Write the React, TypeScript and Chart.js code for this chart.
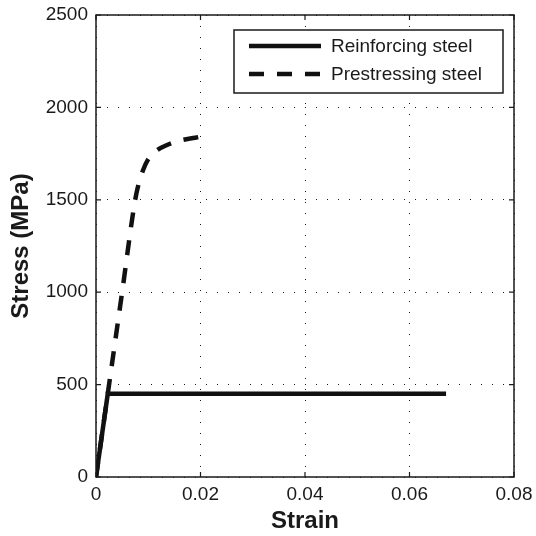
import React, { useEffect, useRef } from "react";
import { Chart, registerables } from "chart.js";

Chart.register(...registerables);

const xTickValues = [0, 0.02, 0.04, 0.06, 0.08];
const yTickValues = [0, 500, 1000, 1500, 2000, 2500];

const reinforcingStrain = [0, 0.00225, 0.067];
const reinforcingStress = [0, 450, 450];

const prestressingStrain = [0, 0.0025, 0.005, 0.0075, 0.0082, 0.009, 0.01, 0.0115, 0.0135, 0.016, 0.019, 0.0217];
const prestressingStress = [0, 500, 1000, 1500, 1590, 1660, 1720, 1765, 1795, 1820, 1836, 1850];

const seriesLabels = ["Reinforcing steel", "Prestressing steel"];

const FONT = "'Liberation Sans', Arial, Helvetica, sans-serif";
const INK = "#1a1a1a";

const framePlugin = {
  id: "frameAndLegend",
  afterDraw(chart: any) {
    const { ctx, chartArea, scales } = chart;
    const { left, right, top, bottom } = chartArea;
    ctx.save();
    // frame
    ctx.strokeStyle = INK;
    ctx.lineWidth = 1.5;
    ctx.setLineDash([]);
    ctx.strokeRect(left, top, right - left, bottom - top);
    // inward ticks
    const tl = 5;
    ctx.lineWidth = 1.2;
    xTickValues.forEach((v) => {
      const x = scales.x.getPixelForValue(v);
      ctx.beginPath();
      ctx.moveTo(x, bottom);
      ctx.lineTo(x, bottom - tl);
      ctx.moveTo(x, top);
      ctx.lineTo(x, top + tl);
      ctx.stroke();
    });
    yTickValues.forEach((v) => {
      const y = scales.y.getPixelForValue(v);
      ctx.beginPath();
      ctx.moveTo(left, y);
      ctx.lineTo(left + tl, y);
      ctx.moveTo(right, y);
      ctx.lineTo(right - tl, y);
      ctx.stroke();
    });

    // legend
    const bx = left + 138;
    const by = top + 15;
    const bw = right - 11 - bx;
    const bh = 63;
    ctx.fillStyle = "#ffffff";
    ctx.fillRect(bx, by, bw, bh);
    ctx.lineWidth = 1.5;
    ctx.strokeStyle = INK;
    ctx.strokeRect(bx, by, bw, bh);
    const rows = [by + 16, by + 44];
    chart.data.datasets.forEach((ds: any, i: number) => {
      const y = rows[i];
      ctx.beginPath();
      ctx.strokeStyle = ds.borderColor;
      ctx.lineWidth = ds.borderWidth;
      ctx.lineCap = "butt";
      ctx.setLineDash(ds.borderDash || []);
      ctx.moveTo(bx + 15, y);
      ctx.lineTo(bx + 87, y);
      ctx.stroke();
      ctx.setLineDash([]);
      ctx.fillStyle = INK;
      ctx.font = `19px ${FONT}`;
      ctx.textBaseline = "middle";
      ctx.textAlign = "left";
      ctx.fillText(ds.label, bx + 97, y + 1);
    });
    ctx.restore();
  },
};

export default function App() {
  const ref = useRef<HTMLCanvasElement | null>(null);
  useEffect(() => {
    if (!ref.current) return;
    const chart = new Chart(ref.current, {
      type: "line",
      data: {
        datasets: [
          {
            label: seriesLabels[0],
            data: reinforcingStrain.map((x, i) => ({ x, y: reinforcingStress[i] })),
            borderColor: "#111111",
            borderWidth: 4.5,
            pointRadius: 0,
            tension: 0,
            fill: false,
          },
          {
            label: seriesLabels[1],
            data: prestressingStrain.map((x, i) => ({ x, y: prestressingStress[i] })),
            borderColor: "#111111",
            borderWidth: 4.5,
            borderDash: [15, 13],
            pointRadius: 0,
            cubicInterpolationMode: "monotone",
            fill: false,
          },
        ],
      },
      options: {
        animation: false,
        responsive: false,
        maintainAspectRatio: false,
        layout: { padding: { top: 15, right: 22, left: 0, bottom: 0 } },
        plugins: { legend: { display: false }, tooltip: { enabled: false } },
        scales: {
          x: {
            type: "linear",
            min: 0,
            max: 0.08,
            afterBuildTicks: (scale: any) => {
              scale.ticks = xTickValues.map((v) => ({ value: v }));
            },
            afterFit: (scale: any) => {
              scale.height = 59;
              scale.paddingLeft = 0;
              scale.paddingRight = 0;
            },
            ticks: {
              padding: 6,
              color: INK,
              font: { family: FONT, size: 19 },
              callback: (v: any) => String(Number(Number(v).toFixed(2))),
              maxRotation: 0,
            },
            grid: { color: INK, lineWidth: 1, drawTicks: false },
            border: { display: false, dash: [1, 10] },
            title: {
              display: true,
              text: "Strain",
              color: INK,
              font: { family: FONT, size: 24, weight: "bold" },
              padding: { top: 0, bottom: 0 },
            },
          },
          y: {
            type: "linear",
            min: 0,
            max: 2500,
            afterBuildTicks: (scale: any) => {
              scale.ticks = yTickValues.map((v) => ({ value: v }));
            },
            afterFit: (scale: any) => {
              scale.width = 96;
              scale.paddingTop = 0;
              scale.paddingBottom = 0;
            },
            ticks: {
              padding: 8,
              color: INK,
              font: { family: FONT, size: 19 },
              callback: (v: any) => String(v),
            },
            grid: { color: INK, lineWidth: 1, drawTicks: false },
            border: { display: false, dash: [1, 10] },
            title: {
              display: true,
              text: "Stress (MPa)",
              color: INK,
              font: { family: FONT, size: 24, weight: "bold" },
              padding: { top: 7, bottom: 0 },
            },
          },
        },
      },
      plugins: [framePlugin],
    } as any);
    return () => chart.destroy();
  }, []);
  return (
    <div style={{ position: "absolute", left: 0, top: 0, width: 536, height: 536, background: "#fff" }}>
      <canvas ref={ref} width={536} height={536} style={{ display: "block" }} />
    </div>
  );
}
